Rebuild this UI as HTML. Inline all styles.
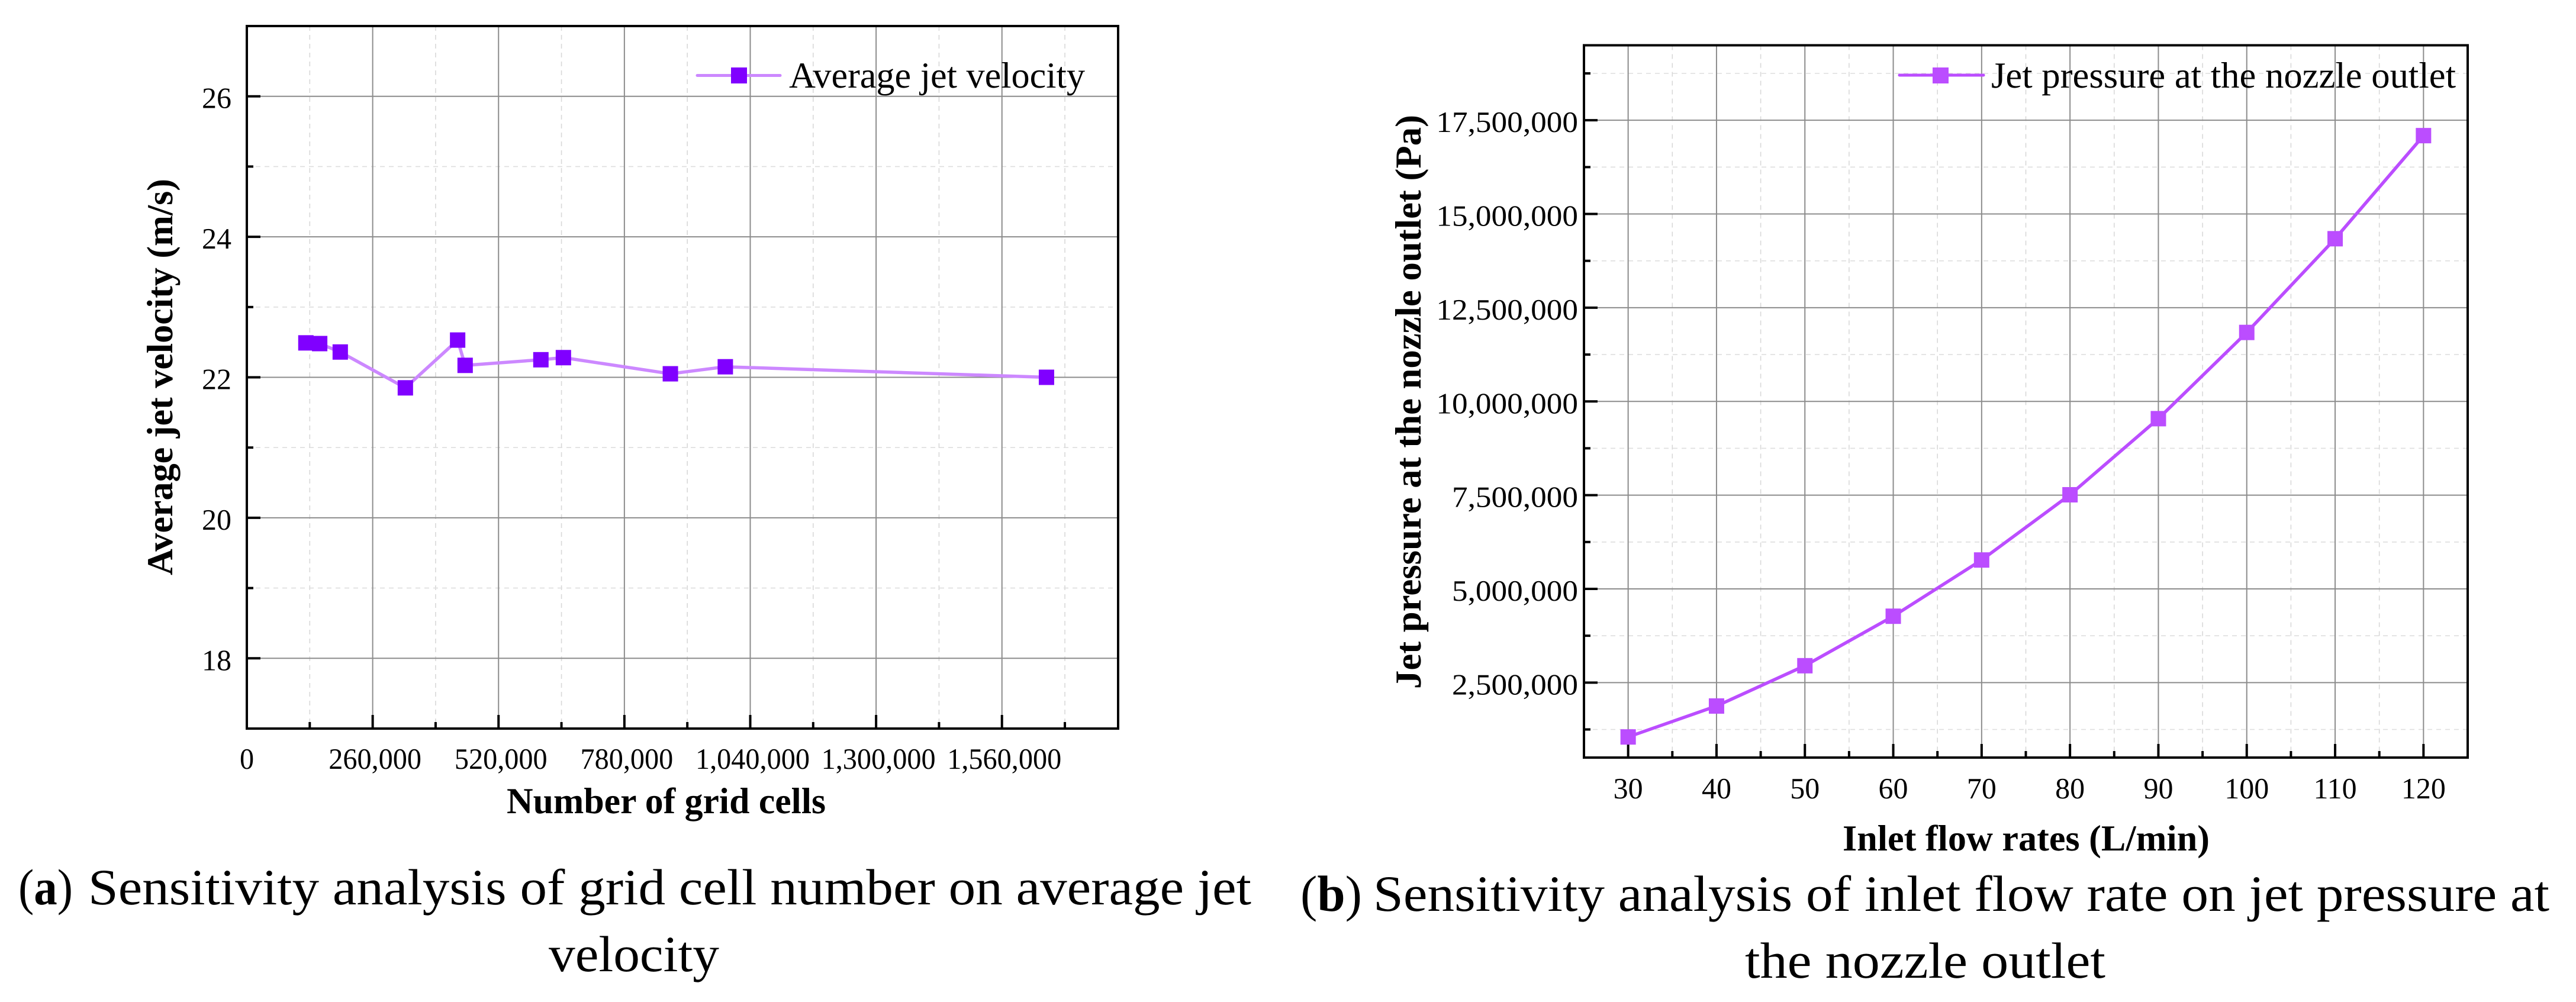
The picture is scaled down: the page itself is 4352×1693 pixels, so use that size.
<!DOCTYPE html>
<html lang="en">
<head>
<meta charset="utf-8">
<title>Sensitivity analysis charts</title>
<style>
html,body{margin:0;padding:0;background:#fff;}
svg{display:block;position:absolute;left:0;top:0;}
text{font-family:"Liberation Serif","Noto Serif CJK SC",serif;fill:#000;text-rendering:geometricPrecision;}
.tick{font-size:50px;}
.title{font-size:62px;font-weight:bold;}
.legend{font-size:62px;}
.caption{font-size:86px;}
</style>
</head>
<body>
<svg id="fig" xmlns="http://www.w3.org/2000/svg" width="4352" height="1693" viewBox="0 0 4352 1693">
  <rect x="0" y="0" width="4352" height="1693" fill="#fff"/>
  <g id="plotA"></g>
  <g id="plotB"></g>

  <text class="title" x="856" y="1374" textLength="539" lengthAdjust="spacingAndGlyphs">Number of grid cells</text>
  <text class="title" transform="translate(291,972) rotate(-90)" textLength="670" lengthAdjust="spacingAndGlyphs">Average jet velocity (m/s)</text>
  <text class="title" x="3113" y="1437" textLength="620" lengthAdjust="spacingAndGlyphs">Inlet flow rates (L/min)</text>
  <text class="title" transform="translate(2400,1164) rotate(-90)" textLength="970" lengthAdjust="spacingAndGlyphs">Jet pressure at the nozzle outlet (Pa)</text>

  <g>
    <line x1="1178" y1="127.5" x2="1318" y2="127.5" stroke="#cc88ff" stroke-width="5" stroke-linecap="round"/>
    <rect x="1235" y="114" width="27" height="27" fill="#8000ff"/>
    <text class="legend" x="1333" y="148" textLength="500" lengthAdjust="spacingAndGlyphs">Average jet velocity</text>
  </g>
  <g>
    <line x1="3209" y1="127" x2="3351" y2="127" stroke="#bb4dff" stroke-width="5" stroke-linecap="round"/>
    <rect x="3265" y="114" width="27" height="27" fill="#bb4dff"/>
    <text class="legend" x="3364" y="148" textLength="785" lengthAdjust="spacingAndGlyphs">Jet pressure at the nozzle outlet</text>
  </g>

  <g>
    <text class="caption" x="31" y="1528" textLength="92" lengthAdjust="spacingAndGlyphs">(<tspan font-weight="bold">a</tspan>)</text>
    <text class="caption" x="149" y="1528" textLength="1965" lengthAdjust="spacingAndGlyphs">Sensitivity analysis of grid cell number on average jet</text>
    <text class="caption" x="927" y="1641" textLength="288" lengthAdjust="spacingAndGlyphs">velocity</text>
  </g>
  <g>
    <text class="caption" x="2197" y="1539" textLength="104" lengthAdjust="spacingAndGlyphs">(<tspan font-weight="bold">b</tspan>)</text>
    <text class="caption" x="2320" y="1539" textLength="1987" lengthAdjust="spacingAndGlyphs">Sensitivity analysis of inlet flow rate on jet pressure at</text>
    <text class="caption" x="2948" y="1652" textLength="609" lengthAdjust="spacingAndGlyphs">the nozzle outlet</text>
  </g>
</svg>
<script>
// Chart (a) data
const gridCellCounts = [122000, 150500, 193000, 327500, 435500, 451000, 607500, 654000, 875000, 988500, 1652000];
const averageJetVelocity = [22.49, 22.48, 22.36, 21.85, 22.53, 22.17, 22.25, 22.28, 22.05, 22.15, 22.0];
const aXMajorTicks = [0, 260000, 520000, 780000, 1040000, 1300000, 1560000];
const aXTickLabels = ['0', '260,000', '520,000', '780,000', '1,040,000', '1,300,000', '1,560,000'];
const aXMinorTicks = [130000, 390000, 650000, 910000, 1170000, 1430000, 1690000];
const aYMajorTicks = [18, 20, 22, 24, 26];
const aYTickLabels = ['18', '20', '22', '24', '26'];
const aYMinorTicks = [19, 21, 23, 25];
const aXDomain = [0, 1800000];
const aYDomain = [17, 27];

// Chart (b) data
const inletFlowRates = [30, 40, 50, 60, 70, 80, 90, 100, 110, 120];
const jetPressure = [1050000, 1875000, 2950000, 4270000, 5770000, 7510000, 9540000, 11840000, 14340000, 17090000];
const bXMajorTicks = [30, 40, 50, 60, 70, 80, 90, 100, 110, 120];
const bXTickLabels = ['30', '40', '50', '60', '70', '80', '90', '100', '110', '120'];
const bXMinorTicks = [35, 45, 55, 65, 75, 85, 95, 105, 115];
const bYMajorTicks = [2500000, 5000000, 7500000, 10000000, 12500000, 15000000, 17500000];
const bYTickLabels = ['2,500,000', '5,000,000', '7,500,000', '10,000,000', '12,500,000', '15,000,000', '17,500,000'];
const bYMinorTicks = [1250000, 3750000, 6250000, 8750000, 11250000, 13750000, 16250000, 18750000];
const bXDomain = [25, 125];
const bYDomain = [500000, 19500000];

const NS = 'http://www.w3.org/2000/svg';
function mk(parent, tag, attrs, txt) {
  const el = document.createElementNS(NS, tag);
  for (const k in attrs) el.setAttribute(k, attrs[k]);
  if (txt !== undefined) el.textContent = txt;
  parent.appendChild(el);
  return el;
}
function scale(domain, a, b) {
  return function (v) { return a + (v - domain[0]) / (domain[1] - domain[0]) * (b - a); };
}

function drawChart(g, c) {
  const x = scale(c.xDomain, c.left, c.right);
  const y = scale(c.yDomain, c.bottom, c.top);
  // minor grid
  c.xMinor.forEach(function (v) {
    const el = mk(g, 'line', {x1: x(v), x2: x(v), y1: c.top, y2: c.bottom, stroke: '#d8d8d8', 'stroke-width': 1.6, 'stroke-dasharray': '8 7'});
    
    
  });
  c.yMinor.forEach(function (v) {
    const el = mk(g, 'line', {x1: c.left, x2: c.right, y1: y(v), y2: y(v), stroke: '#dedede', 'stroke-width': 1.6, 'stroke-dasharray': '8 7'});
    
    
  });
  // major grid
  c.xMajor.forEach(function (v) {
    const el = mk(g, 'line', {x1: x(v), x2: x(v), y1: c.top, y2: c.bottom, stroke: '#8c8c8c', 'stroke-width': 2});
    
    
  });
  c.yMajor.forEach(function (v) {
    const el = mk(g, 'line', {x1: c.left, x2: c.right, y1: y(v), y2: y(v), stroke: '#8c8c8c', 'stroke-width': 2});
    
    
  });
  // ticks
  c.xMajor.forEach(function (v) {
    const el = mk(g, 'line', {x1: x(v), x2: x(v), y1: c.bottom, y2: c.bottom - 23, stroke: '#000', 'stroke-width': 4});
    
    
  });
  c.xMinor.forEach(function (v) {
    const el = mk(g, 'line', {x1: x(v), x2: x(v), y1: c.bottom, y2: c.bottom - 11, stroke: '#000', 'stroke-width': 4});
    
    
  });
  c.yMajor.forEach(function (v) {
    const el = mk(g, 'line', {x1: c.left, x2: c.left + 23, y1: y(v), y2: y(v), stroke: '#000', 'stroke-width': 4});
    
    
  });
  c.yMinor.forEach(function (v) {
    const el = mk(g, 'line', {x1: c.left, x2: c.left + 11, y1: y(v), y2: y(v), stroke: '#000', 'stroke-width': 4});
    
    
  });
  // frame
  const frame = mk(g, 'rect', {x: c.left, y: c.top, width: c.right - c.left, height: c.bottom - c.top, fill: 'none', stroke: '#000', 'stroke-width': 4});
  
  
  // tick labels
  c.xMajor.forEach(function (v, i) {
    const dx = c.xLabels[i].length > 3 ? c.xLabelShift : 0;
    const el = mk(g, 'text', {'class': 'tick', 'text-anchor': 'middle', transform: 'translate(' + (x(v) + dx) + ',' + c.xLabelBase + ') scale(' + c.xLabelStretch + ',1)'}, c.xLabels[i]);
    
    
  });
  c.yMajor.forEach(function (v, i) {
    const el = mk(g, 'text', {'class': 'tick', 'text-anchor': 'end', transform: 'translate(' + c.yLabelRight + ',' + (y(v) + 20) + ') scale(' + c.yLabelStretch + ',1)'}, c.yLabels[i]);
    
    
  });
  // series
  const pts = c.xs.map(function (v, i) { return x(v) + ',' + y(c.ys[i]); }).join(' ');
  const line = mk(g, 'polyline', {points: pts, fill: 'none', stroke: c.lineColor, 'stroke-width': 5.5, 'stroke-linejoin': 'round'});
  
  
  c.xs.forEach(function (v, i) {
    const m = mk(g, 'rect', {x: x(v) - 13, y: y(c.ys[i]) - 13, width: 26, height: 26, fill: c.markerColor});
    
    
  });
}

drawChart(document.getElementById('plotA'), {
  left: 417, right: 1889, top: 44, bottom: 1231,
  xDomain: aXDomain, yDomain: aYDomain,
  xMajor: aXMajorTicks, xMinor: aXMinorTicks, yMajor: aYMajorTicks, yMinor: aYMinorTicks,
  xLabels: aXTickLabels, yLabels: aYTickLabels,
  xs: gridCellCounts, ys: averageJetVelocity,
  lineColor: '#cc88ff', markerColor: '#8000ff',
  xLabelBase: 1299, xLabelShift: 4, xLabelStretch: 0.965,
  yLabelRight: 391, yLabelStretch: 1
});
drawChart(document.getElementById('plotB'), {
  left: 2676, right: 4169, top: 76.5, bottom: 1280,
  xDomain: bXDomain, yDomain: bYDomain,
  xMajor: bXMajorTicks, xMinor: bXMinorTicks, yMajor: bYMajorTicks, yMinor: bYMinorTicks,
  xLabels: bXTickLabels, yLabels: bYTickLabels,
  xs: inletFlowRates, ys: jetPressure,
  lineColor: '#bb4dff', markerColor: '#bb4dff',
  xLabelBase: 1349, xLabelShift: 0, xLabelStretch: 1,
  yLabelRight: 2666, yLabelStretch: 1.065
});
</script>
</body>
</html>
